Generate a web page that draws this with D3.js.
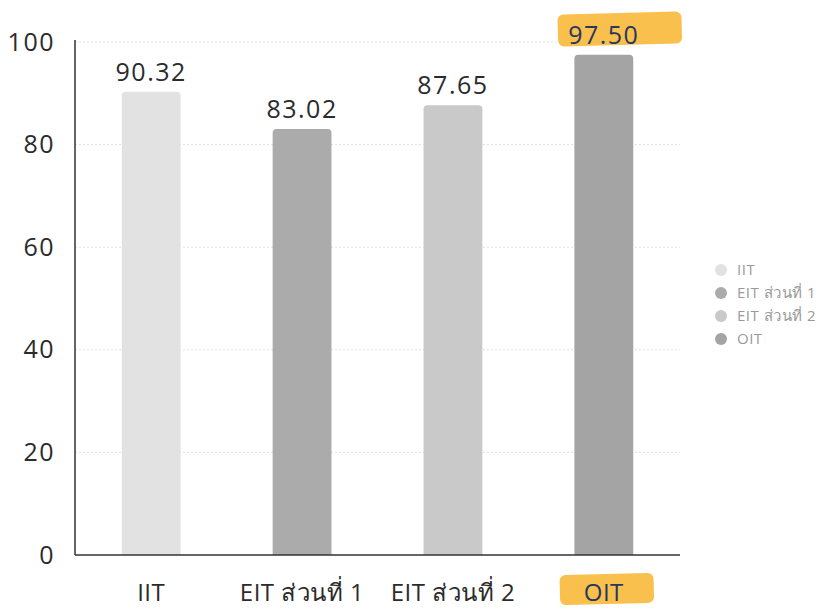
<!DOCTYPE html>
<html>
<head>
<meta charset="utf-8">
<script src="https://cdn.jsdelivr.net/npm/d3@7"></script>
<style>
  body { margin: 0; background: #fff; }
  text { font-family: "Open Sans", "Noto Sans", sans-serif; }
</style>
</head>
<body>
<div id="chart"></div>
<script>
// chart data
var categories = ['IIT', 'EIT ส่วนที่ 1', 'EIT ส่วนที่ 2', 'OIT'];
var scores = [90.32, 83.02, 87.65, 97.50];
var barColors = ['#e2e2e2', '#ababab', '#c9c9c9', '#a4a4a4'];
var yTicks = [0, 20, 40, 60, 80, 100];
var highlighted = 'OIT';

var width = 832, height = 609;
var margin = { left: 75, right: 152, top: 42, bottom: 54 };

var svg = d3.select('#chart').append('svg')
  .attr('width', width)
  .attr('height', height);

var x = d3.scaleBand()
  .domain(categories)
  .range([margin.left, width - margin.right])
  .paddingInner(0.61)
  .paddingOuter(0.31);

var y = d3.scaleLinear()
  .domain([0, 100])
  .range([height - margin.bottom, margin.top]);

var color = d3.scaleOrdinal().domain(categories).range(barColors);

// faint dotted gridlines
svg.append('g')
  .selectAll('line')
  .data(yTicks.filter(function (d) { return d > 0; }))
  .enter().append('line')
  .attr('x1', margin.left)
  .attr('x2', width - margin.right)
  .attr('y1', function (d) { return y(d); })
  .attr('y2', function (d) { return y(d); })
  .attr('stroke', '#e0e0e0')
  .attr('stroke-dasharray', '2,2');

// bars (slightly rounded tops)
svg.append('g')
  .selectAll('path')
  .data(categories)
  .enter().append('path')
  .attr('fill', function (d) { return color(d); })
  .attr('d', function (d, i) {
    var x0 = x(d), w = x.bandwidth(), y0 = y(scores[i]), y1 = y(0), r = 4;
    return 'M' + x0 + ',' + y1 + 'V' + (y0 + r) + 'Q' + x0 + ',' + y0 + ' ' + (x0 + r) + ',' + y0 +
      'H' + (x0 + w - r) + 'Q' + (x0 + w) + ',' + y0 + ' ' + (x0 + w) + ',' + (y0 + r) + 'V' + y1 + 'Z';
  });

// axes lines
svg.append('line')
  .attr('x1', margin.left).attr('x2', margin.left)
  .attr('y1', margin.top - 2).attr('y2', y(0))
  .attr('stroke', '#333').attr('stroke-width', 1.5);
svg.append('line')
  .attr('x1', margin.left).attr('x2', width - margin.right)
  .attr('y1', y(0)).attr('y2', y(0))
  .attr('stroke', '#333').attr('stroke-width', 1.5);

// y tick labels
var yAxis = d3.axisLeft(y).tickValues(yTicks).tickSize(0).tickPadding(20);
var ya = svg.append('g')
  .attr('transform', 'translate(' + margin.left + ',0)')
  .call(yAxis);
ya.select('.domain').remove();
ya.selectAll('text')
  .attr('font-size', 25)
  .attr('fill', '#2b2b2b')
  .style('letter-spacing', '1.5px')
  .style('font-family', '"Open Sans", "Noto Sans", sans-serif');

// highlighter strokes
function marker(cx, cy, w, h) {
  svg.append('rect')
    .attr('x', cx - w / 2).attr('y', cy - h / 2)
    .attr('width', w).attr('height', h)
    .attr('rx', 6)
    .attr('fill', '#f9b93a')
    .attr('opacity', 0.9)
    .attr('transform', 'rotate(-1.5,' + cx + ',' + cy + ')');
}
var hx = x(highlighted) + x.bandwidth() / 2;
marker(hx + 16, 29, 124, 32);
marker(hx + 3, 589, 94, 30);

// value labels
svg.append('g')
  .selectAll('text')
  .data(categories)
  .enter().append('text')
  .attr('x', function (d) { return x(d) + x.bandwidth() / 2; })
  .attr('y', function (d, i) { return y(scores[i]) - 11; })
  .attr('text-anchor', 'middle')
  .attr('font-size', 25)
  .style('letter-spacing', '1.5px')
  .attr('fill', function (d) { return d === highlighted ? '#27375f' : '#2b2b2b'; })
  .text(function (d, i) { return scores[i].toFixed(2); });

// category labels
svg.append('g')
  .selectAll('text')
  .data(categories)
  .enter().append('text')
  .attr('x', function (d) { return x(d) + x.bandwidth() / 2; })
  .attr('y', 601)
  .attr('text-anchor', 'middle')
  .attr('font-size', 24)
  .style('letter-spacing', '0.5px')
  .attr('fill', function (d) { return d === highlighted ? '#27375f' : '#2b2b2b'; })
  .text(function (d) { return d; });

// legend
var legend = svg.append('g')
  .selectAll('g')
  .data(categories)
  .enter().append('g')
  .attr('transform', function (d, i) { return 'translate(721,' + (270 + i * 23) + ')'; });
legend.append('circle')
  .attr('r', 6)
  .attr('fill', function (d) { return color(d); });
legend.append('text')
  .attr('x', 16)
  .attr('dy', '0.35em')
  .attr('font-size', 15)
  .style('letter-spacing', '0.5px')
  .attr('fill', '#9a9a9a')
  .text(function (d) { return d; });
</script>
</body>
</html>
